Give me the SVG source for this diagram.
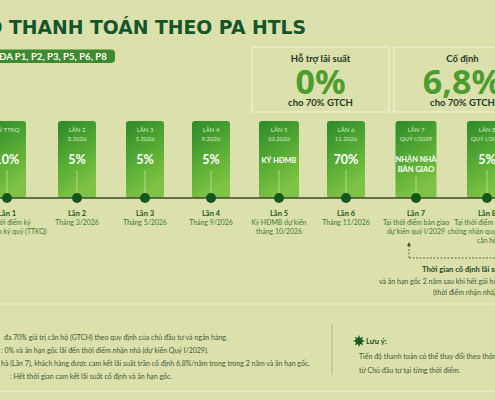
<svg xmlns="http://www.w3.org/2000/svg" width="495" height="400" viewBox="0 0 495 400">
<defs>
<linearGradient id="barGrad" x1="0" y1="0" x2="0.35" y2="1">
<stop offset="0" stop-color="#2d8a2b"/>
<stop offset="0.45" stop-color="#4fa533"/>
<stop offset="0.8" stop-color="#6cb93b"/>
<stop offset="1" stop-color="#7fc246"/>
</linearGradient>
<marker id="arrowUp" viewBox="0 0 6 6" refX="3" refY="3" markerWidth="5" markerHeight="5" orient="auto-start-reverse">
<path d="M0,0 L6,3 L0,6 z" fill="#3f4f33"/>
</marker>
<style>
.title{font-family:"DejaVu Sans",sans-serif;font-weight:bold;font-size:18.8px;fill:#14552a}
.pilltxt{font-family:"Lato","Noto Sans",sans-serif;font-weight:bold;font-size:9.6px;fill:#ffffff}
.box{fill:none;stroke:#eef1d6;stroke-width:1.2}
.boxhead{font-family:"Lato","Noto Sans",sans-serif;font-weight:bold;font-size:9.5px;fill:#1e3a1e;text-anchor:middle}
.big{font-family:"Noto Sans",sans-serif;font-weight:bold;font-size:34px;fill:#4d9c30;text-anchor:middle}
.bar{fill:url(#barGrad)}
.bsmall{font-family:"Lato","Noto Sans",sans-serif;font-size:6px;fill:#d6ecc3;text-anchor:middle}
.bval{font-family:"Lato","Noto Sans",sans-serif;font-weight:bold;font-size:12.5px;fill:#ffffff;text-anchor:middle}
.bword{font-family:"Lato","Noto Sans",sans-serif;font-weight:bold;font-size:7.5px;fill:#ffffff;text-anchor:middle}
.tick{stroke:#e3f1d2;stroke-width:0.7;opacity:0.8}
.dot{fill:#14561f}
.lan{font-family:"Lato","Noto Sans",sans-serif;font-weight:bold;font-size:7.5px;fill:#1f5a20;text-anchor:middle}
.det{font-family:"Lato","Noto Sans",sans-serif;font-size:6.9px;fill:#3f7a32;text-anchor:middle}
.note{font-family:"Lato","Noto Sans",sans-serif;font-size:7px;fill:#3f5a35}
.noteb{font-family:"Lato","Noto Sans",sans-serif;font-weight:bold;font-size:7.6px;fill:#1f4a1f}
.sep{stroke:#f0f3da;stroke-width:1}
</style>
</defs>
<rect x="0" y="0" width="495" height="400" fill="#dbe0ad"/>

<g id="title">
<text class="title" x="306" y="34" text-anchor="end">TIẾN ĐỘ THANH TOÁN THEO PA HTLS</text>
</g>

<g id="pill">
<rect x="-20" y="49.5" width="135" height="13.5" rx="4" fill="#3f8a2e"/>
<text class="pilltxt" x="-1" y="59.8">ĐA P1, P2, P3, P5, P6, P8</text>
</g>

<g id="box-support">
<rect class="box" x="252" y="47" width="137" height="65"/>
<text class="boxhead" x="320.5" y="61.5">Hỗ trợ lãi suất</text>
<text class="big" x="320.5" y="94">0%</text>
<text class="boxhead" x="320.5" y="106">cho 70% GTCH</text>
</g>

<g id="box-fixed">
<rect class="box" x="394" y="47" width="137" height="65"/>
<text class="boxhead" x="462.5" y="61.5">Cố định</text>
<text class="big" x="462.5" y="94">6,8%</text>
<text class="boxhead" x="462.5" y="106">cho 70% GTCH</text>
</g>

<g id="bar-1">
<rect class="bar" x="-12" y="121" width="38" height="77" rx="3"/>
<text class="bsmall" x="7" y="132">KÝ TTKQ</text>
<text class="bval" x="7" y="164">10%</text>
<line class="tick" x1="7" y1="170" x2="7" y2="193"/>
<text class="lan" x="7" y="215.5">Lần 1</text>
<text class="det" x="7" y="224.5">Tại thời điểm ký</text>
<text class="det" x="7" y="233.5">Thỏa thuận ký quỹ (TTKQ)</text>
</g>

<g id="bar-2">
<rect class="bar" x="58" y="121" width="38" height="77" rx="3"/>
<text class="bsmall" x="77" y="132">LẦN 2</text>
<text class="bsmall" x="77" y="141">3.2026</text>
<text class="bval" x="77" y="164">5%</text>
<line class="tick" x1="77" y1="170" x2="77" y2="193"/>
<text class="lan" x="77" y="215.5">Lần 2</text>
<text class="det" x="77" y="224.5">Tháng 3/2026</text>
</g>

<g id="bar-3">
<rect class="bar" x="126" y="121" width="38" height="77" rx="3"/>
<text class="bsmall" x="145" y="132">LẦN 3</text>
<text class="bsmall" x="145" y="141">5.2026</text>
<text class="bval" x="145" y="164">5%</text>
<line class="tick" x1="145" y1="170" x2="145" y2="193"/>
<text class="lan" x="145" y="215.5">Lần 3</text>
<text class="det" x="145" y="224.5">Tháng 5/2026</text>
</g>

<g id="bar-4">
<rect class="bar" x="192" y="121" width="38" height="77" rx="3"/>
<text class="bsmall" x="211" y="132">LẦN 4</text>
<text class="bsmall" x="211" y="141">9.2026</text>
<text class="bval" x="211" y="164">5%</text>
<line class="tick" x1="211" y1="170" x2="211" y2="193"/>
<text class="lan" x="211" y="215.5">Lần 4</text>
<text class="det" x="211" y="224.5">Tháng 9/2026</text>
</g>

<g id="bar-5">
<rect class="bar" x="259" y="121" width="40" height="77" rx="3"/>
<text class="bsmall" x="279" y="132">LẦN 5</text>
<text class="bsmall" x="279" y="141">10.2026</text>
<text class="bword" x="279" y="163">KÝ HĐMB</text>
<line class="tick" x1="279" y1="170" x2="279" y2="193"/>
<text class="lan" x="279" y="215.5">Lần 5</text>
<text class="det" x="279" y="224.5">Ký HĐMB dự kiến</text>
<text class="det" x="279" y="233.5">tháng 10/2026</text>
</g>

<g id="bar-6">
<rect class="bar" x="327" y="121" width="38" height="77" rx="3"/>
<text class="bsmall" x="346" y="132">LẦN 6</text>
<text class="bsmall" x="346" y="141">11.2026</text>
<text class="bval" x="346" y="164">70%</text>
<line class="tick" x1="346" y1="170" x2="346" y2="193"/>
<text class="lan" x="346" y="215.5">Lần 6</text>
<text class="det" x="346" y="224.5">Tháng 11/2026</text>
</g>

<g id="bar-7">
<rect class="bar" x="395.5" y="121" width="41" height="77" rx="3"/>
<text class="bsmall" x="416" y="132">LẦN 7</text>
<text class="bsmall" x="416" y="141">QUÝ I/2029</text>
<text class="bword" x="416" y="162">NHẬN NHÀ</text>
<text class="bword" x="416" y="172">BÀN GIAO</text>
<line class="tick" x1="416" y1="176" x2="416" y2="193"/>
<text class="lan" x="416" y="215.5">Lần 7</text>
<text class="det" x="416" y="224.5">Tại thời điểm bàn giao</text>
<text class="det" x="416" y="233.5">dự kiến quý I/2029</text>
</g>

<g id="bar-8">
<rect class="bar" x="467" y="121" width="40" height="77" rx="3"/>
<text class="bsmall" x="487" y="132">LẦN 8</text>
<text class="bsmall" x="487" y="141">QUÝ I/2030</text>
<text class="bval" x="487" y="164">5%</text>
<line class="tick" x1="487" y1="170" x2="487" y2="193"/>
<text class="lan" x="487" y="215.5">Lần 8</text>
<text class="det" x="489" y="224.5">Tại thời điểm nhận giấy</text>
<text class="det" x="487" y="233.5">chứng nhận quyền sở hữu</text>
<text class="det" x="487" y="242.5">căn hộ</text>
</g>

<g id="connectors">
<line x1="0" y1="198" x2="495" y2="198" stroke="#3b4a2e" stroke-width="1.5"/>
<path d="M409,258 L409,244" fill="none" stroke="#3f4f33" stroke-width="0.8" stroke-dasharray="2,1.5" marker-end="url(#arrowUp)"/>
<path d="M409,258 L495,258" fill="none" stroke="#3f4f33" stroke-width="0.8" stroke-dasharray="2,1.5"/>
</g>

<g id="dots">
<circle class="dot" cx="7" cy="198" r="5"/>
<circle class="dot" cx="77" cy="198" r="5"/>
<circle class="dot" cx="145" cy="198" r="5"/>
<circle class="dot" cx="211" cy="198" r="5"/>
<circle class="dot" cx="279" cy="198" r="5"/>
<circle class="dot" cx="346" cy="198" r="5"/>
<circle class="dot" cx="416" cy="198" r="5"/>
<circle class="dot" cx="487" cy="198" r="5"/>
</g>

<g id="fixed-note">
<text class="noteb" x="422" y="272">Thời gian cố định lãi suất 6,8%</text>
<text class="note" x="379" y="284">và ân hạn gốc 2 năm sau khi hết gói hỗ trợ lãi suất 0%</text>
<text class="note" x="433" y="294.5">(thời điểm nhận nhà)</text>
</g>

<line class="sep" x1="0" y1="304" x2="495" y2="304"/>

<g id="notes-left">
<text class="note" x="4" y="339.5">đa 70% giá trị căn hộ (GTCH) theo quy định của chủ đầu tư và ngân hàng.</text>
<text class="note" x="1" y="353">: 0% và ân hạn gốc lãi đến thời điểm nhận nhà (dự kiến Quý I/2029).</text>
<text class="note" x="1" y="366">hà (Lần 7), khách hàng được cam kết lãi suất trần cố định 6,8%/năm trong trong 2 năm và ân hạn gốc.</text>
<text class="note" x="10" y="379">:  Hết thời gian cam kết lãi suất cố định và ân hạn gốc.</text>
</g>

<line x1="332" y1="325" x2="332" y2="375" stroke="#a3ab8a" stroke-width="0.8"/>

<g id="notes-right">
<polygon points="359,335 360.2,338.1 363.2,336.8 361.9,339.8 365,341 361.9,342.2 363.2,345.2 360.2,343.9 359,347 357.8,343.9 354.8,345.2 356.1,342.2 353,341 356.1,339.8 354.8,336.8 357.8,338.1" fill="#1d5a22"/>
<text class="noteb" x="366" y="343.5">Lưu ý:</text>
<text class="note" x="359" y="359">Tiến độ thanh toán có thể thay đổi theo thông báo</text>
<text class="note" x="359" y="373">từ Chủ đầu tư tại từng thời điểm.</text>
</g>

<line class="sep" x1="0" y1="391" x2="495" y2="391"/>
</svg>
